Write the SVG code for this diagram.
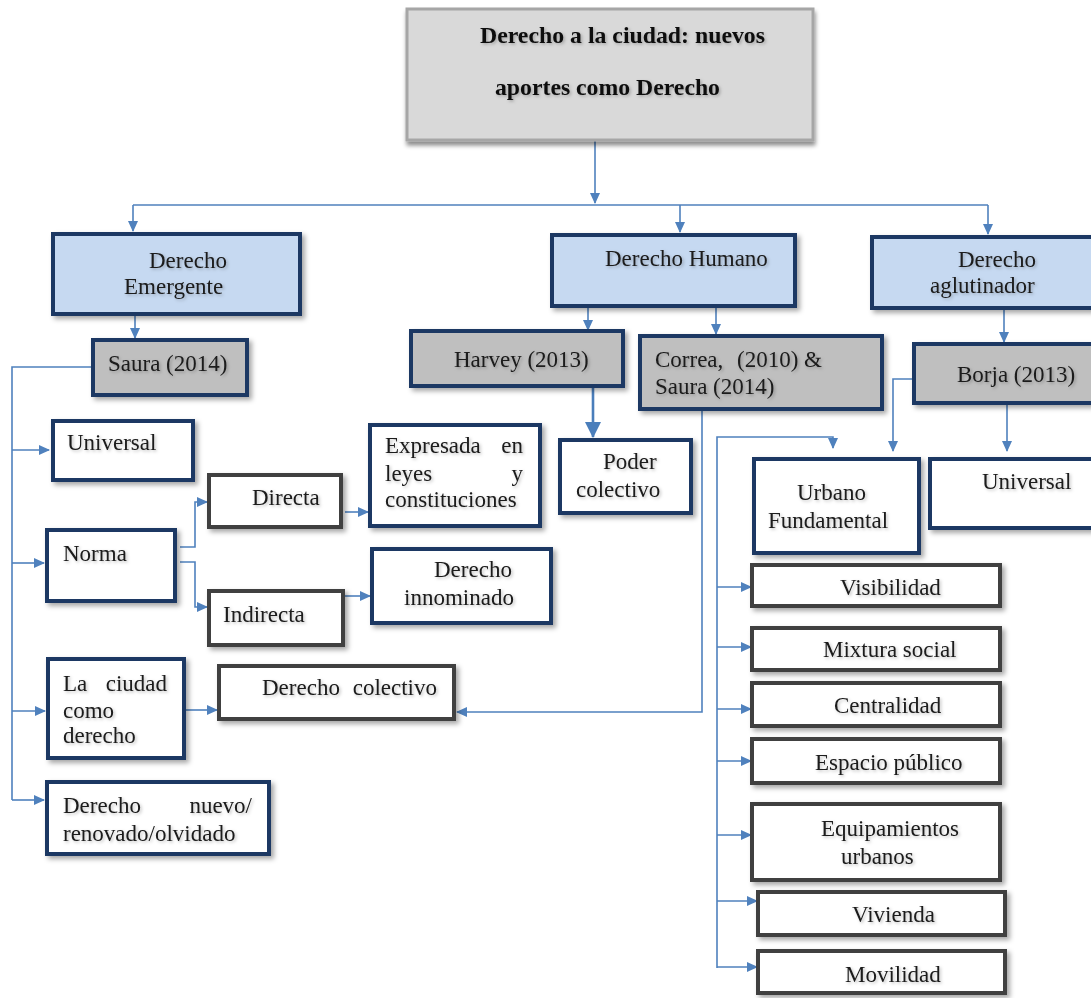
<svg xmlns="http://www.w3.org/2000/svg" width="1091" height="998" viewBox="0 0 1091 998">
  <style>
    .t { font-family: "Liberation Serif", "Times New Roman", serif; font-size: 23px; fill: #1a1a1a; }
    .tb { font-family: "Liberation Serif", "Times New Roman", serif; font-size: 23px; font-weight: bold; fill: #111; }
    .blue { fill: #c6d9f1; stroke: #1f3864; stroke-width: 4; }
    .grey { fill: #bfbfbf; stroke: #1f3864; stroke-width: 4; }
    .navy { fill: #ffffff; stroke: #1f3864; stroke-width: 4; }
    .dark { fill: #ffffff; stroke: #3f3f3f; stroke-width: 4; }
    .root { fill: #d9d9d9; stroke: #a6a6a6; stroke-width: 3; filter: url(#rootShadow); }
    .box { filter: url(#shadow); }
    .txt { filter: url(#tshadow); }
    .c { fill: none; stroke: #4f81bd; stroke-width: 1.6; }
    .ca { fill: none; stroke: #4f81bd; stroke-width: 1.6; marker-end: url(#arr); }
    .cb { fill: none; stroke: #4a7ebb; stroke-width: 2.6; marker-end: url(#arrBig); }
  </style>
  <defs>
    <filter id="shadow" x="-10%" y="-10%" width="130%" height="140%">
      <feDropShadow dx="3" dy="3" stdDeviation="2.5" flood-color="#000" flood-opacity="0.35"/>
    </filter>
    <filter id="rootShadow" x="-10%" y="-10%" width="125%" height="130%">
      <feDropShadow dx="1" dy="4" stdDeviation="2" flood-color="#000" flood-opacity="0.45"/>
    </filter>
    <filter id="tshadow" x="-5%" y="-20%" width="115%" height="150%">
      <feDropShadow dx="1.5" dy="1.5" stdDeviation="1.5" flood-color="#000" flood-opacity="0.25"/>
    </filter>
    <marker id="arr" markerUnits="userSpaceOnUse" markerWidth="11" markerHeight="10" refX="10" refY="5" orient="auto">
      <path d="M0,0 L11,5 L0,10 Z" fill="#4f81bd"/>
    </marker>
    <marker id="arrBig" markerUnits="userSpaceOnUse" markerWidth="16" markerHeight="16" refX="15" refY="8" orient="auto">
      <path d="M0,0 L16,8 L0,16 Z" fill="#4a7ebb"/>
    </marker>
  </defs>

  <!-- connectors -->
  <g id="connectors">
    <path class="ca" d="M595,141 V203"/>
    <path class="c" d="M133,205 H988"/>
    <path class="ca" d="M133,205 V231"/>
    <path class="ca" d="M680,205 V232"/>
    <path class="ca" d="M988,205 V234"/>

    <path class="ca" d="M135,316 V338"/>
    <path class="c" d="M91,367 H12 V800"/>
    <path class="ca" d="M12,450 H49"/>
    <path class="ca" d="M12,563 H44"/>
    <path class="ca" d="M12,711 H45"/>
    <path class="ca" d="M12,800 H44"/>

    <path class="ca" d="M180,547 H195 V502 H207"/>
    <path class="ca" d="M180,562 H195 V607 H207"/>
    <path class="ca" d="M345,512 H368"/>
    <path class="ca" d="M341,596 H370"/>
    <path class="ca" d="M186,710 H217"/>
    <path class="ca" d="M729,408 H702 V712 H457"/>

    <path class="ca" d="M588,308 V330"/>
    <path class="ca" d="M716,308 V334"/>
    <path class="cb" d="M593,388 V437"/>

    <path class="ca" d="M1004,310 V342"/>
    <path class="ca" d="M1007,405 V451"/>
    <path class="ca" d="M918,379 H893 V451"/>

    <path class="ca" d="M717,968 V437 H833 V448"/>
    <path class="ca" d="M717,587 H751"/>
    <path class="ca" d="M717,647 H751"/>
    <path class="ca" d="M717,709 H751"/>
    <path class="ca" d="M717,761 H751"/>
    <path class="ca" d="M717,835 H751"/>
    <path class="ca" d="M717,901 H757"/>
    <path class="ca" d="M717,967 H757"/>
  </g>

  <!-- root -->
  <g id="root">
    <rect class="root" x="407" y="9" width="406" height="131"/>
    <text class="tb txt" x="480" y="43" textLength="285" lengthAdjust="spacingAndGlyphs">Derecho a la ciudad: nuevos</text>
    <text class="tb txt" x="495" y="95" textLength="225" lengthAdjust="spacingAndGlyphs">aportes como Derecho</text>
  </g>

  <!-- left branch -->
  <g id="emergente">
    <rect class="blue box" x="53" y="234" width="247" height="80"/>
    <text class="t txt" x="149" y="268">Derecho</text>
    <text class="t txt" x="124" y="294">Emergente</text>
  </g>
  <g id="saura">
    <rect class="grey box" x="93" y="340" width="154" height="55"/>
    <text class="t txt" x="108" y="371">Saura (2014)</text>
  </g>
  <g id="universal-1">
    <rect class="navy box" x="53" y="421" width="140" height="59"/>
    <text class="t txt" x="67" y="450">Universal</text>
  </g>
  <g id="norma">
    <rect class="navy box" x="47" y="530" width="128" height="71"/>
    <text class="t txt" x="63" y="561">Norma</text>
  </g>
  <g id="directa">
    <rect class="dark box" x="209" y="475" width="132" height="52"/>
    <text class="t txt" x="252" y="505">Directa</text>
  </g>
  <g id="indirecta">
    <rect class="dark box" x="209" y="591" width="134" height="54"/>
    <text class="t txt" x="223" y="622">Indirecta</text>
  </g>
  <g id="expresada">
    <rect class="navy box" x="370" y="425" width="170" height="101"/>
    <text class="t txt" x="385" y="453">Expresada</text>
    <text class="t txt" x="523" y="453" text-anchor="end">en</text>
    <text class="t txt" x="385" y="481">leyes</text>
    <text class="t txt" x="523" y="481" text-anchor="end">y</text>
    <text class="t txt" x="385" y="507">constituciones</text>
  </g>
  <g id="innominado">
    <rect class="navy box" x="372" y="549" width="179" height="74"/>
    <text class="t txt" x="434" y="577">Derecho</text>
    <text class="t txt" x="404" y="605">innominado</text>
  </g>
  <g id="la-ciudad">
    <rect class="navy box" x="48" y="659" width="136" height="99"/>
    <text class="t txt" x="63" y="691">La</text>
    <text class="t txt" x="167" y="691" text-anchor="end">ciudad</text>
    <text class="t txt" x="63" y="718">como</text>
    <text class="t txt" x="63" y="743">derecho</text>
  </g>
  <g id="colectivo">
    <rect class="dark box" x="219" y="666" width="235" height="53"/>
    <text class="t txt" x="262" y="695">Derecho</text>
    <text class="t txt" x="437" y="695" text-anchor="end">colectivo</text>
  </g>
  <g id="nuevo">
    <rect class="navy box" x="47" y="782" width="222" height="72"/>
    <text class="t txt" x="63" y="813">Derecho</text>
    <text class="t txt" x="252" y="813" text-anchor="end">nuevo/</text>
    <text class="t txt" x="63" y="841">renovado/olvidado</text>
  </g>

  <!-- middle branch -->
  <g id="humano">
    <rect class="blue box" x="552" y="235" width="243" height="71"/>
    <text class="t txt" x="605" y="266">Derecho Humano</text>
  </g>
  <g id="harvey">
    <rect class="grey box" x="411" y="331" width="212" height="55"/>
    <text class="t txt" x="454" y="367">Harvey (2013)</text>
  </g>
  <g id="correa">
    <rect class="grey box" x="640" y="336" width="242" height="73"/>
    <text class="t txt" x="655" y="367">Correa,</text>
    <text class="t txt" x="737" y="367">(2010) &amp;</text>
    <text class="t txt" x="655" y="394">Saura (2014)</text>
  </g>
  <g id="poder">
    <rect class="navy box" x="560" y="440" width="131" height="73"/>
    <text class="t txt" x="603" y="469">Poder</text>
    <text class="t txt" x="576" y="497">colectivo</text>
  </g>

  <!-- right branch -->
  <g id="aglutinador">
    <rect class="blue box" x="872" y="237" width="230" height="71"/>
    <text class="t txt" x="958" y="267">Derecho</text>
    <text class="t txt" x="930" y="293">aglutinador</text>
  </g>
  <g id="borja">
    <rect class="grey box" x="914" y="344" width="190" height="59"/>
    <text class="t txt" x="957" y="382">Borja (2013)</text>
  </g>
  <g id="universal-2">
    <rect class="navy box" x="930" y="459" width="170" height="69"/>
    <text class="t txt" x="982" y="489">Universal</text>
  </g>
  <g id="urbano">
    <rect class="navy box" x="754" y="459" width="165" height="94"/>
    <text class="t txt" x="797" y="500">Urbano</text>
    <text class="t txt" x="768" y="528">Fundamental</text>
  </g>
  <g id="visibilidad">
    <rect class="dark box" x="752" y="565" width="248" height="41"/>
    <text class="t txt" x="840" y="595">Visibilidad</text>
  </g>
  <g id="mixtura">
    <rect class="dark box" x="752" y="628" width="248" height="42"/>
    <text class="t txt" x="823" y="657">Mixtura social</text>
  </g>
  <g id="centralidad">
    <rect class="dark box" x="752" y="683" width="248" height="43"/>
    <text class="t txt" x="834" y="713">Centralidad</text>
  </g>
  <g id="espacio">
    <rect class="dark box" x="752" y="739" width="248" height="44"/>
    <text class="t txt" x="815" y="770">Espacio público</text>
  </g>
  <g id="equipamientos">
    <rect class="dark box" x="752" y="804" width="248" height="76"/>
    <text class="t txt" x="821" y="836">Equipamientos</text>
    <text class="t txt" x="841" y="864">urbanos</text>
  </g>
  <g id="vivienda">
    <rect class="dark box" x="758" y="892" width="247" height="43"/>
    <text class="t txt" x="852" y="922">Vivienda</text>
  </g>
  <g id="movilidad">
    <rect class="dark box" x="758" y="951" width="247" height="42"/>
    <text class="t txt" x="845" y="982">Movilidad</text>
  </g>
</svg>
